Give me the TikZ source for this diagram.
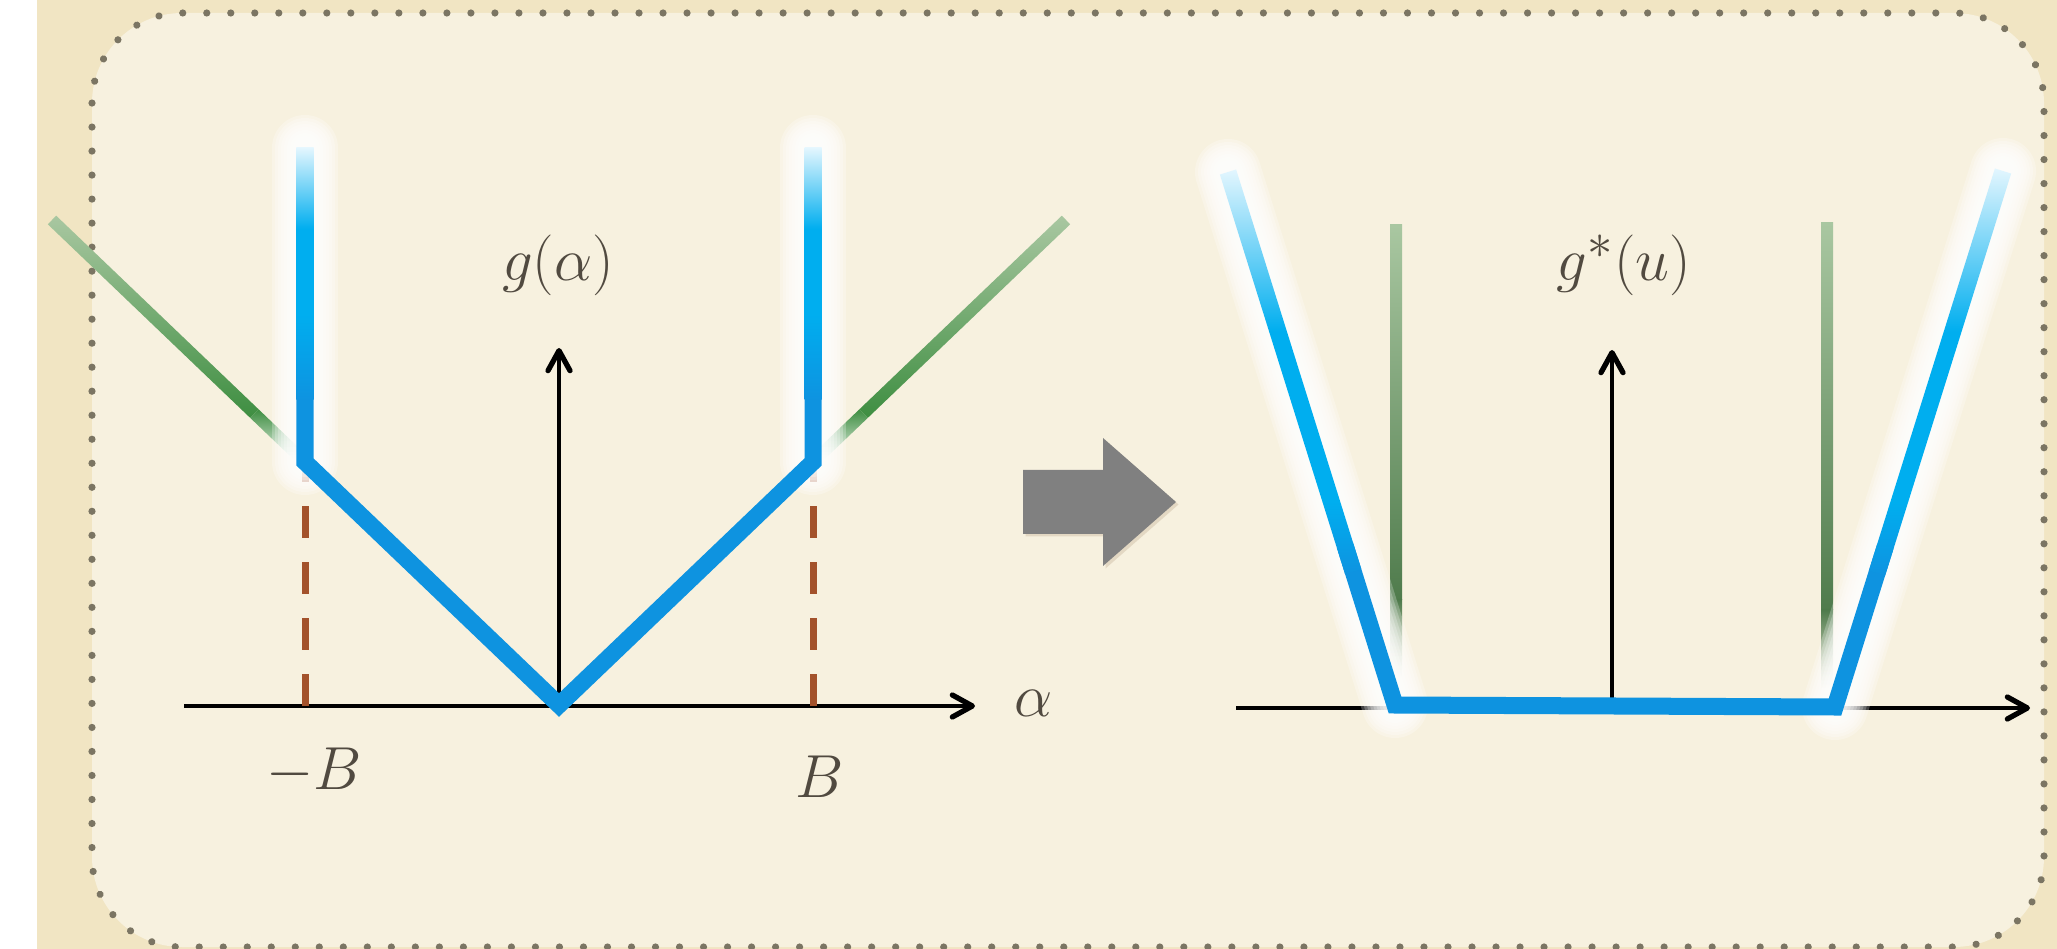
\documentclass[tikz,border=0pt]{standalone}
\usepackage{xcolor}
\usepackage{tikz}
\usetikzlibrary{arrows.meta,calc,shadows,decorations.markings}

\definecolor{outerbg}{HTML}{F1E5C3}
\definecolor{innerbg}{HTML}{F7F1DF}
\definecolor{dotgray}{HTML}{7B7563}
\definecolor{lineblue}{HTML}{0E93E0}
\definecolor{linecyan}{HTML}{00AEEF}
\definecolor{lightcyan}{HTML}{E3F6FE}
\definecolor{lightgreen}{HTML}{A9C7A1}
\definecolor{midgreen}{HTML}{3E8E41}
\definecolor{darkgreen}{HTML}{4F7B4C}
\definecolor{dashbrown}{HTML}{A3522B}
\definecolor{labelgray}{HTML}{514A40}
\definecolor{arrowgray}{HTML}{808080}

% colour runs of the blue ends (visible part 25bp..75bp, bottom to top)
\pgfdeclareverticalshading{stemfade}{100bp}{color(0bp)=(lineblue); color(25bp)=(lineblue);
  color(42bp)=(linecyan); color(59bp)=(linecyan); color(75bp)=(lightcyan); color(100bp)=(lightcyan)}
\pgfdeclareverticalshading{slopefade}{100bp}{color(0bp)=(lineblue); color(25bp)=(lineblue);
  color(34bp)=(linecyan); color(55bp)=(linecyan); color(75bp)=(lightcyan); color(100bp)=(lightcyan)}

% shaded band of half width #3 from #1 to #2
\newcommand{\thickseg}[4]{%
  \shade[#4] ($(#1)!#3!90:(#2)$) -- ($(#1)!#3!-90:(#2)$)
    -- ($(#2)!#3!90:(#1)$) -- ($(#2)!#3!-90:(#1)$) -- cycle;}
% soft white halo round a segment
\newcommand{\glowseg}[2]{%
  \foreach \w in {6.6,6,5.4,4.8,4.2,3.6,3,2.4}
    \draw[glowline, line width=\w mm] (#1) -- (#2);}

\begin{document}
\begin{tikzpicture}[
  x=0.01cm, y=-0.01cm,
  glowline/.style={white, opacity=0.25, line cap=round},
  axisarrow/.style={line width=0.04cm, -{Straight Barb[length=2mm, width=2.2mm, line width=1.5pt, round]}},
  blueline/.style={lineblue, line width=0.17cm, line join=miter},
  bdash/.style={dashbrown, line width=0.07cm, dash pattern=on 0.32cm off 0.24cm},
  lbl/.style={text=labelgray, font=\fontsize{19}{23}\selectfont},
  dotframe/.style={rounded corners=0.9cm, postaction={decorate},
    decoration={markings, mark=between positions 0 and 1 step 0.24cm with {\fill[dotgray] circle (0.036cm);}}}
]
\useasboundingbox (0,0) rectangle (2057,949);
% background
\fill[white] (0,0) rectangle (2057,949);
\fill[outerbg] (37,0) rectangle (2057,949);
\fill[innerbg, rounded corners=0.9cm] (92,13) rectangle (2044,947);
\path[dotframe] (92,13) rectangle (2044,947);

% left plot: g(alpha)
\coordinate (lxs) at (184,706);
\coordinate (lxe) at (975,706);
\coordinate (lo) at (559,706);
\coordinate (lyt) at (559,348);
\coordinate (lt1) at (305,148);
\coordinate (ls1) at (305,400);
\coordinate (lj1) at (305,380);
\coordinate (lk1) at (305,462);
\coordinate (lb1) at (305,706);
\coordinate (lt2) at (813,148);
\coordinate (ls2) at (813,400);
\coordinate (lj2) at (813,380);
\coordinate (lk2) at (813,462);
\coordinate (lb2) at (813,706);
\coordinate (lv) at (559,705);
\coordinate (lg1) at (52,220);
\coordinate (lg2) at (1066,220);
\coordinate (lgm1) at ($(lg1)!0.8!(lk1)$);
\coordinate (lgm2) at ($(lg2)!0.8!(lk2)$);

\draw[axisarrow] (lxs) -- (lxe);
\draw[axisarrow] (lo) -- (lyt);
\draw[bdash] (lb1) -- (lk1);
\draw[bdash] (lb2) -- (lk2);
\thickseg{lg1}{lgm1}{0.06cm}{top color=lightgreen, bottom color=midgreen}
\thickseg{lgm1}{lk1}{0.06cm}{top color=midgreen, bottom color=white}
\thickseg{lg2}{lgm2}{0.06cm}{top color=lightgreen, bottom color=midgreen}
\thickseg{lgm2}{lk2}{0.06cm}{top color=midgreen, bottom color=white}
\glowseg{lt1}{lk1}
\glowseg{lt2}{lk2}
\draw[blueline] (lj1) -- (lk1) -- (lv) -- (lk2) -- (lj2);
\thickseg{lt1}{ls1}{0.085cm}{shading=stemfade}
\thickseg{lt2}{ls2}{0.085cm}{shading=stemfade}

\node[lbl] (galpha) at (558,265) {$g(\alpha)$};
\node[lbl] (alpha) at (1034,703) {$\alpha$};
\node[lbl] (mB) at (314,771) {$-B$};
\node[lbl] (pB) at (820,777) {$B$};

% block arrow
\fill[arrowgray, drop shadow={shadow xshift=0.025cm, shadow yshift=-0.025cm, opacity=0.15, fill=brown!60!black}]
  (1023,470) -- (1103,470) -- (1103,438) -- (1176,502) -- (1103,566) -- (1103,534) -- (1023,534) -- cycle;

% right plot: g*(u)
\coordinate (rxs) at (1236,708);
\coordinate (rxe) at (2030,708);
\coordinate (ro) at (1612,708);
\coordinate (ryt) at (1612,350);
\coordinate (rt1) at (1228,172);
\coordinate (rb1) at (1395,705);
\coordinate (rb2) at (1835,707);
\coordinate (rt2) at (2003,171);
\coordinate (rm1) at ($(rt1)!0.75!(rb1)$);
\coordinate (rj1) at ($(rt1)!0.7!(rb1)$);
\coordinate (rm2) at ($(rt2)!0.75!(rb2)$);
\coordinate (rj2) at ($(rt2)!0.7!(rb2)$);
\coordinate (rg1t) at (1396,225);
\coordinate (rg1m) at (1396,600);
\coordinate (rg1b) at (1396,680);
\coordinate (rg2t) at (1827,223);
\coordinate (rg2m) at (1827,610);
\coordinate (rg2b) at (1827,690);

\draw[axisarrow] (rxs) -- (rxe);
\draw[axisarrow] (ro) -- (ryt);
\thickseg{rg1t}{rg1m}{0.06cm}{top color=lightgreen, middle color=midgreen, bottom color=darkgreen}
\thickseg{rg1m}{rg1b}{0.06cm}{top color=darkgreen, bottom color=innerbg}
\thickseg{rg2t}{rg2m}{0.06cm}{top color=lightgreen, middle color=midgreen, bottom color=darkgreen}
\thickseg{rg2m}{rg2b}{0.06cm}{top color=darkgreen, bottom color=innerbg}
\glowseg{rt1}{rb1}
\glowseg{rt2}{rb2}
\draw[blueline] (rj1) -- (rb1) -- (rb2) -- (rj2);
\thickseg{rt1}{rm1}{0.085cm}{shading=slopefade}
\thickseg{rt2}{rm2}{0.085cm}{shading=slopefade}

\node[lbl] (gstar) at (1624,265) {$g^*(u)$};
\end{tikzpicture}
\end{document}
